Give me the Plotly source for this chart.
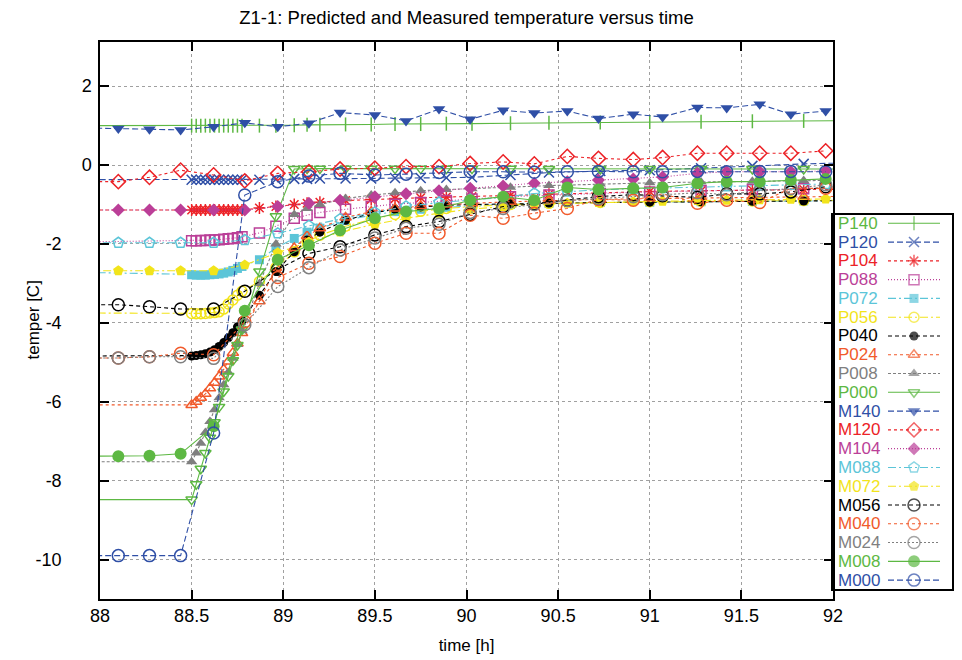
import plotly.graph_objects as go

# ---------------- data ----------------
P_TIME = [87.9, 88.5, 88.525, 88.55, 88.575, 88.6, 88.625, 88.65, 88.675, 88.7, 88.725, 88.75, 88.775,
          88.87, 88.96, 89.06, 89.13, 89.2, 89.34, 89.48, 89.61, 89.75, 89.89, 90.03, 90.24, 90.45,
          90.73, 91.0, 91.28, 91.56, 91.84, 92.12]
M_TIME = [87.93, 88.10, 88.27, 88.44, 88.62, 88.79, 88.97, 89.14, 89.31, 89.50, 89.67, 89.85, 90.02,
          90.20, 90.37, 90.55, 90.72, 90.91, 91.07, 91.26, 91.42, 91.60, 91.77, 91.96]

P140 = [1.00, 1.00, 1.00, 1.00, 1.00, 1.00, 1.00, 1.00, 1.00, 1.00, 1.00, 1.00, 1.00,
        1.00, 1.00, 1.01, 1.02, 1.02, 1.03, 1.03, 1.04, 1.04, 1.05, 1.05, 1.06, 1.07, 1.08, 1.09, 1.10, 1.11, 1.12, 1.13]
P120 = [-0.37, -0.37, -0.37, -0.37, -0.37, -0.37, -0.37, -0.37, -0.37, -0.37, -0.37, -0.37, -0.37,
        -0.37, -0.36, -0.35, -0.35, -0.34, -0.34, -0.34, -0.33, -0.33, -0.32, -0.31, -0.25, -0.19, -0.15, -0.13, -0.08, -0.02, 0.03, 0.06]
P104 = [-1.14, -1.14, -1.14, -1.14, -1.14, -1.14, -1.14, -1.14, -1.14, -1.14, -1.14, -1.14, -1.14,
        -1.09, -1.05, -1.00, -0.97, -0.94, -0.90, -0.87, -0.85, -0.83, -0.81, -0.80, -0.77, -0.74, -0.70, -0.67, -0.65, -0.63, -0.62, -0.61]
P088 = [-1.95, -1.92, -1.92, -1.91, -1.91, -1.90, -1.90, -1.89, -1.88, -1.87, -1.86, -1.84, -1.82,
        -1.72, -1.55, -1.35, -1.27, -1.20, -1.12, -1.05, -0.99, -0.95, -0.90, -0.86, -0.80, -0.76, -0.72, -0.68, -0.65, -0.62, -0.60, -0.58]
P072 = [-2.72, -2.78, -2.79, -2.79, -2.79, -2.78, -2.77, -2.76, -2.74, -2.71, -2.67, -2.62, -2.57,
        -2.40, -2.10, -1.86, -1.70, -1.60, -1.40, -1.27, -1.18, -1.12, -1.07, -1.03, -1.00, -0.97, -0.95, -0.94, -0.93, -0.92, -0.91, -0.90]
P056 = [-3.75, -3.76, -3.77, -3.77, -3.76, -3.75, -3.74, -3.72, -3.65, -3.52, -3.42, -3.30, -3.20,
        -2.95, -2.60, -2.20, -1.95, -1.78, -1.55, -1.38, -1.25, -1.17, -1.10, -1.05, -1.00, -0.97, -0.95, -0.93, -0.92, -0.91, -0.90, -0.89]
P040 = [-4.84, -4.84, -4.83, -4.81, -4.78, -4.74, -4.68, -4.60, -4.50, -4.38, -4.25, -4.10, -3.95,
        -3.30, -2.70, -2.20, -1.90, -1.70, -1.40, -1.22, -1.12, -1.06, -1.02, -1.00, -0.98, -0.96, -0.95, -0.94, -0.93, -0.92, -0.91, -0.90]
P024 = [-6.08, -6.08, -6.00, -5.90, -5.80, -5.66, -5.52, -5.36, -5.18, -4.98, -4.76, -4.52, -4.26,
        -3.45, -2.60, -2.10, -1.80, -1.60, -1.33, -1.18, -1.10, -1.04, -1.00, -0.97, -0.93, -0.90, -0.87, -0.85, -0.83, -0.81, -0.80, -0.79]
P008 = [-7.52, -7.52, -7.30, -7.05, -6.78, -6.50, -6.20, -5.90, -5.57, -5.25, -4.90, -4.55, -4.20,
        -3.00, -2.00, -1.25, -1.10, -1.00, -0.85, -0.76, -0.70, -0.65, -0.62, -0.60, -0.56, -0.52, -0.48, -0.45, -0.43, -0.41, -0.39, -0.38]
P000 = [-8.48, -8.48, -8.09, -7.70, -7.30, -6.91, -6.52, -6.13, -5.74, -5.35, -4.95, -4.56, -4.17,
        -2.70, -1.30, -0.10, -0.09, -0.09, -0.09, -0.09, -0.09, -0.09, -0.09, -0.09, -0.09, -0.10, -0.10, -0.10, -0.10, -0.10, -0.10, -0.10]

M140 = [0.94, 0.93, 0.91, 0.89, 0.97, 1.07, 0.97, 1.06, 1.33, 1.27, 1.12, 1.42, 1.16, 1.39, 1.32, 1.37,
        1.18, 1.29, 1.22, 1.46, 1.45, 1.54, 1.29, 1.37]
M120 = [-0.42, -0.42, -0.31, -0.13, -0.25, -0.40, -0.21, -0.17, -0.10, -0.08, -0.04, -0.04, 0.04, 0.08, 0.03, 0.22,
        0.17, 0.14, 0.19, 0.30, 0.30, 0.30, 0.30, 0.36]
M104 = [-1.14, -1.14, -1.14, -1.14, -1.14, -1.14, -1.05, -0.97, -0.89, -0.80, -0.73, -0.65, -0.59, -0.53, -0.46, -0.42,
        -0.38, -0.35, -0.30, -0.21, -0.17, -0.17, -0.17, -0.15]
M088 = [-1.97, -1.97, -1.97, -1.97, -1.97, -1.90, -1.73, -1.54, -1.37, -1.20, -1.05, -0.95, -0.88, -0.82, -0.72, -0.67,
        -0.63, -0.60, -0.58, -0.55, -0.54, -0.52, -0.50, -0.48]
M072 = [-2.68, -2.68, -2.68, -2.68, -2.68, -2.53, -2.22, -1.95, -1.70, -1.50, -1.35, -1.22, -1.12, -1.05, -1.00, -0.97,
        -0.95, -0.93, -0.92, -0.90, -0.89, -0.88, -0.87, -0.86]
M056 = [-3.54, -3.54, -3.59, -3.65, -3.65, -3.20, -2.64, -2.24, -2.07, -1.77, -1.56, -1.43, -1.25, -1.05, -0.98, -0.89,
        -0.80, -0.75, -0.78, -0.82, -0.73, -0.73, -0.68, -0.55]
M040 = [-4.89, -4.89, -4.86, -4.77, -4.81, -3.97, -2.85, -2.49, -2.32, -1.98, -1.73, -1.73, -1.27, -1.35, -1.22, -1.10,
        -0.87, -0.89, -0.73, -0.97, -0.89, -0.95, -0.59, -0.59]
M024 = [-4.89, -4.89, -4.86, -4.86, -4.90, -4.05, -3.08, -2.60, -2.15, -1.85, -1.60, -1.50, -1.20, -1.10, -1.00, -0.90,
        -0.85, -0.80, -0.75, -0.70, -0.75, -0.65, -0.60, -0.50]
M008 = [-7.38, -7.38, -7.37, -7.32, -6.62, -3.69, -2.40, -2.03, -1.65, -1.35, -1.18, -1.10, -0.89, -0.80, -0.89, -0.57,
        -0.62, -0.59, -0.57, -0.46, -0.42, -0.42, -0.38, -0.35]
M000 = [-9.90, -9.90, -9.90, -9.90, -6.79, -0.76, -0.42, -0.28, -0.21, -0.25, -0.23, -0.19, -0.17, -0.17, -0.18, -0.17,
        -0.16, -0.17, -0.17, -0.16, -0.17, -0.16, -0.16, -0.17]

X_TICKS = [88, 88.5, 89, 89.5, 90, 90.5, 91, 91.5, 92]
X_LABELS = ["88", "88.5", "89", "89.5", "90", "90.5", "91", "91.5", "92"]
Y_TICKS = [-10, -8, -6, -4, -2, 0, 2]
Y_LABELS = ["-10", "-8", "-6", "-4", "-2", "0", "2"]

TITLE = "Z1-1: Predicted and Measured temperature versus time"
X_TITLE = "time [h]"
Y_TITLE = "temper [C]"

# ---------------- styles ----------------
GREEN = "#5db843"
BLUE = "#2f4fa6"
RED = "#ec2227"
MAGENTA = "#bb3f98"
CYAN = "#5cc5d8"
YELLOW = "#f2e41b"
BLACK = "#000000"
ORANGE = "#f15a2b"
GRAY = "#7f7f7f"

DASHDOT = "8px,3px,2px,3px"
series = [
    # name, x, y, color, dash, symbol, size
    ("P140", P_TIME, P140, GREEN, "solid", "line-ns-open", 10),
    ("P120", P_TIME, P120, BLUE, "6px,3px", "x-thin-open", 10),
    ("P104", P_TIME, P104, RED, "3px,3px", "asterisk-open", 10),
    ("P088", P_TIME, P088, MAGENTA, "1px,2px", "square-open", 10),
    ("P072", P_TIME, P072, CYAN, DASHDOT, "square", 9),
    ("P056", P_TIME, P056, YELLOW, DASHDOT, "circle-open", 10),
    ("P040", P_TIME, P040, BLACK, "4px,3px", "circle", 9),
    ("P024", P_TIME, P024, ORANGE, "3px,3px", "triangle-up-open", 10),
    ("P008", P_TIME, P008, GRAY, "3px,2px", "triangle-up", 10),
    ("P000", P_TIME, P000, GREEN, "solid", "triangle-down-open", 10),
    ("M140", M_TIME, M140, BLUE, "6px,3px", "triangle-down", 11),
    ("M120", M_TIME, M120, RED, "3px,3px", "diamond-open", 11),
    ("M104", M_TIME, M104, MAGENTA, "1px,2px", "diamond", 10),
    ("M088", M_TIME, M088, CYAN, DASHDOT, "pentagon-open", 11),
    ("M072", M_TIME, M072, YELLOW, DASHDOT, "pentagon", 11),
    ("M056", M_TIME, M056, BLACK, "4px,3px", "circle-open", 12),
    ("M040", M_TIME, M040, ORANGE, "3px,3px", "circle-open", 12),
    ("M024", M_TIME, M024, GRAY, "2px,2px", "circle-open", 12),
    ("M008", M_TIME, M008, GREEN, "solid", "circle", 12),
    ("M000", M_TIME, M000, BLUE, "6px,3px", "circle-open", 12),
]

FONT = "Liberation Sans, Arial, sans-serif"

# layout geometry (pixels)
W, H = 962, 660
PL, PR, PT, PB = 100, 833, 42, 599
LEG_R, LEG_T, LEG_B = 952, 215, 589
LEG_Y0, LEG_DY = 223.3, 18.78
LEG_TX, LEG_L0, LEG_L1 = 836, 888, 940
YTITLE_X = 33

fig = go.Figure()


def marker_for(color, symbol, size):
    filled = not symbol.endswith("-open")
    if filled:
        return dict(symbol=symbol, size=size, color=color, line=dict(width=0))
    return dict(symbol=symbol, size=size, color=color, line=dict(width=1.5, color=color))


for name, xs, ys, color, dash, symbol, size in series:
    fig.add_trace(go.Scatter(
        x=xs, y=ys, mode="lines+markers", name=name, showlegend=False,
        line=dict(color=color, width=1.1, dash=dash),
        marker=marker_for(color, symbol, size),
        xaxis="x", yaxis="y",
    ))

plot_w = LEG_R - PL
dom_x = (PR - PL) / plot_w
ph = PB - PT

# custom key (gnuplot style: text left, sample right)
annotations = []
for i, (name, xs, ys, color, dash, symbol, size) in enumerate(series):
    yk = LEG_Y0 + LEG_DY * i
    fig.add_trace(go.Scatter(
        x=[LEG_L0, (LEG_L0 + LEG_L1) / 2, LEG_L1], y=[yk, yk, yk],
        mode="lines+markers", showlegend=False, hoverinfo="skip",
        line=dict(color=color, width=1.1, dash=dash),
        marker=dict(marker_for(color, symbol, size), size=[0, size, 0]),
        xaxis="x2", yaxis="y2", cliponaxis=False,
    ))
    annotations.append(dict(
        x=LEG_TX, y=yk, xref="x2", yref="y2", text=name, showarrow=False,
        xanchor="left", yanchor="middle", font=dict(family=FONT, size=17, color=color),
    ))

# y axis title
annotations.append(dict(
    x=(YTITLE_X - PL) / plot_w, y=0.5, xref="paper", yref="paper", text=Y_TITLE, textangle=-90,
    showarrow=False, xanchor="center", yanchor="middle", font=dict(family=FONT, size=17, color="black"),
))

# y tick labels: negative labels sit further left in the original output
NBSP = "\u00a0"
y_ticktext = [lab + NBSP * 6 if lab.startswith("-") else lab for lab in Y_LABELS]

axis_common = dict(
    showline=True, linecolor="black", linewidth=1.5, mirror="allticks",
    ticks="inside", ticklen=9, tickwidth=1.5, tickcolor="black",
    showgrid=True, gridcolor="#a0a0a0", griddash="dot", gridwidth=1,
    zeroline=False, tickfont=dict(family=FONT, size=18, color="black"),
    automargin=False,
)

fig.update_layout(
    template="none",
    width=W, height=H,
    margin=dict(l=PL, r=W - LEG_R, t=PT, b=H - PB, autoexpand=False),
    paper_bgcolor="white", plot_bgcolor="white",
    font=dict(family=FONT, size=17, color="black"),
    title=dict(text=TITLE, x=(PL + PR) / 2 / W, xref="container", xanchor="center",
               y=1 - 18 / H, yref="container", yanchor="middle",
               font=dict(family=FONT, size=18.5, color="black")),
    xaxis=dict(axis_common, domain=[0, dom_x], range=[88, 92], tickvals=X_TICKS, ticktext=X_LABELS,
               title=dict(text=X_TITLE, font=dict(family=FONT, size=17), standoff=14), anchor="y"),
    yaxis=dict(axis_common, domain=[0, 1], range=[-11, 3.12], tickvals=Y_TICKS, ticktext=y_ticktext,
               ticklabelstandoff=3, anchor="x"),
    xaxis2=dict(domain=[dom_x, 1], range=[PR, LEG_R], showline=True, linecolor="black", linewidth=1.5,
                mirror=True, showgrid=False, zeroline=False, showticklabels=False, ticks="", anchor="y2",
                fixedrange=True, automargin=False),
    yaxis2=dict(domain=[(PB - LEG_B) / ph, (PB - LEG_T) / ph], range=[LEG_B, LEG_T], showline=True,
                linecolor="black", linewidth=1.5, mirror=True, showgrid=False, zeroline=False,
                showticklabels=False, ticks="", anchor="x2", fixedrange=True, automargin=False),
    annotations=annotations,
    showlegend=False,
)

fig.write_html("out.html")
